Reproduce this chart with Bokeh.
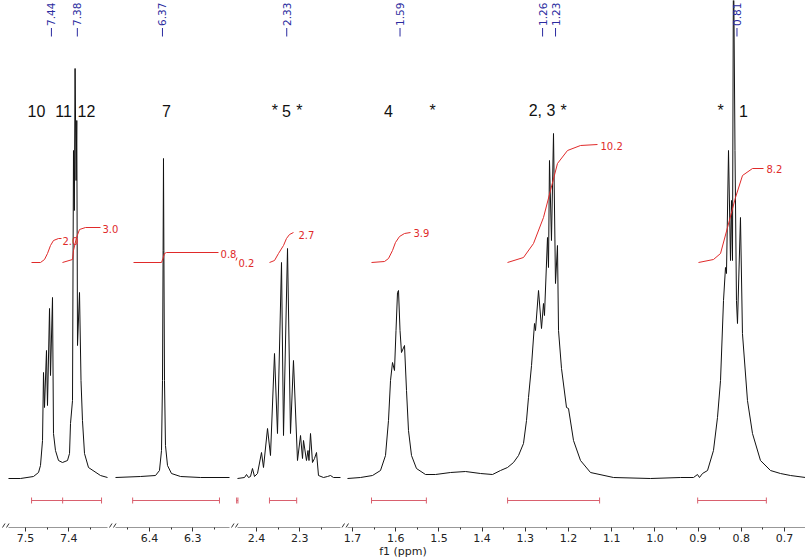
import math
from bokeh.plotting import figure
from bokeh.models import Range1d, FixedTicker, Arrow
from bokeh.core.properties import value
from bokeh.embed import file_html
from bokeh.resources import INLINE

# ---------------- data (chemical shift in ppm, intensity in arbitrary units) ----------------
seg1_ppm = [7.5394, 7.5116, 7.4815, 7.4699, 7.4653, 7.4606, 7.4583, 7.4560, 7.4514, 7.4491,
            7.4444, 7.4421, 7.4375, 7.4352, 7.4306, 7.4236, 7.4144, 7.4028, 7.3981, 7.3958,
            7.3912, 7.3889, 7.3870, 7.3852, 7.3829, 7.3813, 7.3796, 7.3750, 7.3715, 7.3681,
            7.3634, 7.3542, 7.3264, 7.3102]
seg1_int = [0, 0, 2, 6, 13, 38, 106, 71, 128, 73,
            170, 103, 181, 45, 28, 18, 16, 18, 25, 55,
            78, 328, 268, 410, 298, 358, 133, 186, 98, 58,
            25, 11, 3, 1]

seg2_ppm = [6.4787, 6.4208, 6.3861, 6.3769, 6.3722, 6.3699, 6.3685, 6.3676, 6.3667, 6.3653,
            6.3630, 6.3583, 6.3491, 6.3282, 6.2819, 6.2148]
seg2_int = [1, 2, 3, 8, 28, 98, 228, 320, 228, 98,
            33, 13, 5, 2, 1, 1]

seg3_ppm = [2.4440, 2.4278, 2.4231, 2.4185, 2.4139, 2.4093, 2.4046, 2.3977, 2.3884, 2.3838,
            2.3745, 2.3676, 2.3583, 2.3514, 2.3421, 2.3375, 2.3282, 2.3213, 2.3144, 2.3051,
            2.2981, 2.2935, 2.2912, 2.2843, 2.2808, 2.2785, 2.2750, 2.2704, 2.2657, 2.2611,
            2.2565, 2.2449, 2.2356, 2.2287, 2.2218, 2.2056]
seg3_int = [0, 1, 4, 1, 2, 10, 2, 5, 26, 11,
            50, 23, 125, 45, 216, 43, 230, 45, 118, 18,
            43, 20, 38, 18, 28, 18, 45, 16, 20, 26,
            3, 1, 2, 3, 1, 1]

seg4_ppm = [1.7116, 1.6815, 1.6537, 1.6352, 1.6236, 1.6167, 1.6120, 1.6074, 1.6028, 1.5993,
            1.5958, 1.5935, 1.5900, 1.5866, 1.5796, 1.5750, 1.5704, 1.5634, 1.5519, 1.5310,
            1.5079, 1.4731, 1.4384, 1.4037, 1.3759, 1.3574, 1.3412, 1.3273, 1.3157, 1.3042,
            1.2972, 1.2926, 1.2856, 1.2787, 1.2764, 1.2694, 1.2625, 1.2579, 1.2556, 1.2486,
            1.2463, 1.2440, 1.2394, 1.2347, 1.2301, 1.2255, 1.2231, 1.2162, 1.2046, 1.2000,
            1.1884, 1.1722, 1.1491, 1.0958, 1.0102, 0.9407, 0.9106, 0.9014, 0.8968, 0.8898,
            0.8782, 0.8644, 0.8551, 0.8481, 0.8412, 0.8366, 0.8343, 0.8296, 0.8250, 0.8227,
            0.8204, 0.8181, 0.8146, 0.8112, 0.8088, 0.8019, 0.7973, 0.7857, 0.7741, 0.7556,
            0.7324, 0.7093, 0.6861, 0.6514]
seg4_int = [0, 1, 3, 8, 23, 58, 98, 116, 108, 148,
            186, 188, 148, 126, 133, 88, 48, 23, 10, 4,
            4, 6, 7, 5, 4, 8, 11, 16, 23, 35,
            58, 81, 113, 155, 148, 188, 150, 175, 163, 241,
            211, 318, 238, 345, 195, 233, 148, 110, 71, 70,
            38, 18, 6, 1, 0, 1, 1, 4, 1, 5,
            8, 28, 61, 98, 178, 211, 205, 328, 218, 278,
            218, 530, 328, 178, 155, 261, 145, 78, 45, 18,
            8, 5, 3, 1]

# peak picking labels (ppm)
peaks_s1 = [7.44, 7.38]
peaks_s2 = [6.37]
peaks_s3 = [2.33]
peaks_s4 = [1.59, 1.26, 1.23, 0.81]

# assignment labels
assign_s1_text = ["10", "11", "12"]
assign_s1_ppm = [7.4745, 7.4120, 7.3588]
assign_s2_text = ["7"]
assign_s2_ppm = [6.3606]
assign_s3_text = ["*", "5", "*"]
assign_s3_ppm = [2.3575, 2.3306, 2.3010]
assign_s4_text = ["4", "*", "2, 3", "*", "*", "1"]
assign_s4_ppm = [1.6167, 1.5148, 1.2614, 1.2116, 0.8481, 0.7949]
assign_level = 368

# integral curves (ppm, cumulative level) and their values
int_a_ppm = [7.4861, 7.4653, 7.4560, 7.4491, 7.4421, 7.4352, 7.4236, 7.4167]
int_a_lev = [216, 216, 219, 225, 233, 238, 240, 240]
int_a_label = ("2.0", 7.4144, 238)
int_b_ppm = [7.4144, 7.3912, 7.3889, 7.3819, 7.3750, 7.3611, 7.3264]
int_b_lev = [216, 219, 228, 241, 249, 251, 251]
int_b_label = ("3.0", 7.3218, 250)
int_c_ppm = [6.4370, 6.3722, 6.3688, 6.3653, 6.3606, 6.2403]
int_c_lev = [216, 216, 220, 225, 226, 226]
int_c_label = ("0.8", 6.2356, 225)
int_d_ppm = [2.4475, 2.4451]
int_d_lev = [218, 221]
int_d_label = ("0.2", 2.4417, 216)
int_e_ppm = [2.3699, 2.3583, 2.3491, 2.3375, 2.3306, 2.3236, 2.3144]
int_e_lev = [216, 218, 225, 233, 240, 244, 246]
int_e_label = ("2.7", 2.3028, 244)
int_f_ppm = [1.6560, 1.6259, 1.6167, 1.6074, 1.6005, 1.5912, 1.5796, 1.5657]
int_f_lev = [216, 217, 220, 228, 236, 242, 245, 246]
int_f_label = ("3.9", 1.5588, 246)
int_g_ppm = [1.3412, 1.3042, 1.2810, 1.2579, 1.2417, 1.2255, 1.2023, 1.1722, 1.1329]
int_g_lev = [216, 221, 235, 261, 288, 315, 328, 333, 334]
int_g_label = ("10.2", 1.1259, 333)
int_h_ppm = [0.8991, 0.8644, 0.8481, 0.8319, 0.8134, 0.7972, 0.7741, 0.7486]
int_h_lev = [216, 219, 225, 251, 281, 303, 310, 310]
int_h_label = ("8.2", 0.7417, 310)

# integration ranges (ppm)
bar_seg = ["s1", "s2", "s3", "s3", "default", "default", "default"]
bar_hi = [7.486, 6.439, 2.446, 2.370, 1.656, 1.341, 0.901]
bar_lo = [7.324, 6.238, 2.443, 2.307, 1.529, 1.128, 0.742]
bar_mid_s1 = [7.414]
bar_level = -22

# ---------------- layout ----------------
REF_W = 805.0
PX_PER_PPM = 432.0
WIDTH, HEIGHT = 805, 560
Y_LO, Y_HI = -49, 478
LABEL_BASE = 452.5        # where the rotated peak numbers start
TICK_LO, TICK_HI = 442, 450.5
# (range name, anchor ppm, anchor ref px, visible span start/end ref px)
SEGS = [("s1", 7.5, 25, 8, 107), ("s2", 6.4, 149, 115, 229),
        ("s3", 2.4, 256, 237, 340), ("default", 1.7, 352, 347, 805)]
START = {n: a + px / PX_PER_PPM for n, a, px, _, _ in SEGS}

BLACK = "#111111"
RED = "#e02a2a"
BAR_RED = "#d9606e"
BLUE = "#2b2ba0"
AX = "#333333"

p = figure(width=WIDTH, height=HEIGHT,
           x_range=Range1d(START["default"], START["default"] - REF_W / PX_PER_PPM),
           y_range=Range1d(Y_LO, Y_HI),
           output_backend="svg", toolbar_location=None, y_axis_location=None,
           min_border_left=0, min_border_right=0, min_border_top=0, min_border_bottom=0)
p.extra_x_ranges = {n: Range1d(START[n], START[n] - REF_W / PX_PER_PPM)
                    for n in START if n != "default"}
p.outline_line_color = None
p.xgrid.visible = False
p.ygrid.visible = False
p.background_fill_color = "white"
p.border_fill_color = "white"

# spectrum
for name, xs, ys in [("s1", seg1_ppm, seg1_int), ("s2", seg2_ppm, seg2_int),
                     ("s3", seg3_ppm, seg3_int), ("default", seg4_ppm, seg4_int)]:
    p.line(xs, ys, x_range_name=name, line_color=BLACK, line_width=1)

# integrals
for name, xs, ys, lab in [("s1", int_a_ppm, int_a_lev, int_a_label),
                          ("s1", int_b_ppm, int_b_lev, int_b_label),
                          ("s2", int_c_ppm, int_c_lev, int_c_label),
                          ("s3", int_d_ppm, int_d_lev, int_d_label),
                          ("s3", int_e_ppm, int_e_lev, int_e_label),
                          ("default", int_f_ppm, int_f_lev, int_f_label),
                          ("default", int_g_ppm, int_g_lev, int_g_label),
                          ("default", int_h_ppm, int_h_lev, int_h_label)]:
    p.line(xs, ys, x_range_name=name, line_color=RED, line_width=1)
    p.text(x=[lab[1]], y=[lab[2]], text=[lab[0]], x_range_name=name,
           text_color=RED, text_font=value("DejaVu Sans"), text_font_size="10px",
           text_align="left", text_baseline="middle")

# integration bars
for name in START:
    hi = [h for s, h in zip(bar_seg, bar_hi) if s == name]
    lo = [l for s, l in zip(bar_seg, bar_lo) if s == name]
    if not hi:
        continue
    p.segment(x0=hi, y0=[bar_level] * len(hi), x1=lo, y1=[bar_level] * len(lo),
              x_range_name=name, line_color=BAR_RED, line_width=1)
    caps = hi + lo + (bar_mid_s1 if name == "s1" else [])
    p.segment(x0=caps, y0=[bar_level - 3] * len(caps), x1=caps, y1=[bar_level + 3] * len(caps),
              x_range_name=name, line_color=BAR_RED, line_width=1)

# peak labels (short tick + rotated value)
for name, vals in [("s1", peaks_s1), ("s2", peaks_s2), ("s3", peaks_s3), ("default", peaks_s4)]:
    p.segment(x0=vals, y0=[TICK_LO] * len(vals), x1=vals, y1=[TICK_HI] * len(vals),
              x_range_name=name, line_color=BLUE, line_width=1)
    p.text(x=vals, y=[LABEL_BASE] * len(vals), text=["%.2f" % v for v in vals],
           x_range_name=name, angle=math.pi / 2, text_color=BLUE,
           text_font=value("DejaVu Sans"), text_font_size="10.5px",
           text_align="left", text_baseline="middle")

# assignment labels
for name, txt, xs in [("s1", assign_s1_text, assign_s1_ppm), ("s2", assign_s2_text, assign_s2_ppm),
                      ("s3", assign_s3_text, assign_s3_ppm), ("default", assign_s4_text, assign_s4_ppm)]:
    p.text(x=xs, y=[assign_level] * len(xs), text=txt, x_range_name=name,
           text_color=BLACK, text_font=value("Liberation Sans"), text_font_size="16px",
           text_align="center", text_baseline="middle")

# ---------------- broken x axis ----------------
def to_default(name, v):
    return round(v + (START["default"] - START[name]), 6)

def multiples(lo, hi, step):
    k0 = math.ceil(lo / step - 1e-9)
    k1 = math.floor(hi / step + 1e-9)
    return [round(k * step, 2) for k in range(k0, k1 + 1)]

major, minor, overrides = [], [], {}
for name, a, apx, s_lo, s_hi in SEGS:
    v_hi = START[name] - s_lo / PX_PER_PPM
    v_lo = START[name] - s_hi / PX_PER_PPM
    for v in multiples(v_lo, v_hi, 0.1):
        d = to_default(name, v)
        major.append(d)
        overrides[d] = "%.1f" % v
    for v in multiples(v_lo, v_hi, 0.05):
        if abs(v * 10 - round(v * 10)) > 1e-6:
            minor.append(to_default(name, v))
    x0 = START["default"] - s_lo / PX_PER_PPM
    x1 = START["default"] - s_hi / PX_PER_PPM
    p.add_layout(Arrow(start=None, end=None, x_start=x0, y_start=Y_LO, x_end=x1, y_end=Y_LO,
                       line_color=AX, line_width=1))

# break marks
for c in [2, 6, 109, 113, 231, 235, 341.5, 345.5]:
    p.add_layout(Arrow(start=None, end=None,
                       x_start=START["default"] - (c - 2.5) / PX_PER_PPM, y_start=Y_LO - 4,
                       x_end=START["default"] - (c + 2.5) / PX_PER_PPM, y_end=Y_LO + 4,
                       line_color=AX, line_width=1))

ax = p.xaxis[0]
ax.ticker = FixedTicker(ticks=major, minor_ticks=minor)
ax.major_label_overrides = overrides
ax.axis_line_color = None
ax.major_tick_line_color = AX
ax.minor_tick_line_color = AX
ax.major_tick_in = 0
ax.major_tick_out = 4
ax.minor_tick_in = 0
ax.minor_tick_out = 2
ax.major_label_standoff = 2
ax.major_label_text_font = "DejaVu Sans"
ax.major_label_text_font_size = "11px"
ax.major_label_text_color = "#222222"
ax.axis_label = "f1 (ppm)"
ax.axis_label_standoff = 0
ax.axis_label_text_font = "DejaVu Sans"
ax.axis_label_text_font_size = "11px"
ax.axis_label_text_font_style = "normal"
ax.axis_label_text_color = "#222222"

open("out.html", "w").write(file_html(p, INLINE))
